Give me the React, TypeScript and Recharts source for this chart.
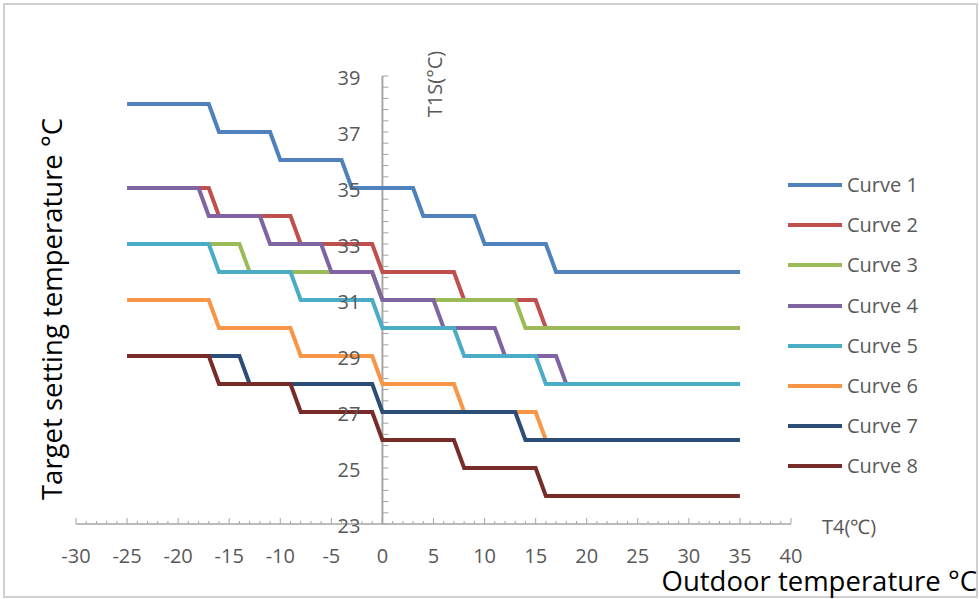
import React from 'react';
import {
  LineChart,
  Line,
  XAxis,
  YAxis,
  Legend,
  ReferenceLine,
  ReferenceDot,
} from 'recharts';

// [outdoor temp T4, target temp T1S]
const CURVE_1: [number, number][] = [
  [-25, 38], [-17, 38], [-16, 37], [-11, 37], [-10, 36], [-4, 36], [-3, 35],
  [3, 35], [4, 34], [9, 34], [10, 33], [16, 33], [17, 32], [35, 32],
];
const CURVE_2: [number, number][] = [
  [-25, 35], [-17, 35], [-16, 34], [-9, 34], [-8, 33], [-1, 33], [0, 32],
  [7, 32], [8, 31], [15, 31], [16, 30], [35, 30],
];
const CURVE_3: [number, number][] = [
  [-25, 33], [-14, 33], [-13, 32], [-1, 32], [0, 31], [13, 31], [14, 30], [35, 30],
];
const CURVE_4: [number, number][] = [
  [-25, 35], [-18, 35], [-17, 34], [-12, 34], [-11, 33], [-6, 33], [-5, 32],
  [-1, 32], [0, 31], [5, 31], [6, 30], [11, 30], [12, 29], [17, 29], [18, 28], [35, 28],
];
const CURVE_5: [number, number][] = [
  [-25, 33], [-17, 33], [-16, 32], [-9, 32], [-8, 31], [-1, 31], [0, 30],
  [7, 30], [8, 29], [15, 29], [16, 28], [35, 28],
];
const CURVE_6: [number, number][] = [
  [-25, 31], [-17, 31], [-16, 30], [-9, 30], [-8, 29], [-1, 29], [0, 28],
  [7, 28], [8, 27], [15, 27], [16, 26], [35, 26],
];
const CURVE_7: [number, number][] = [
  [-25, 29], [-14, 29], [-13, 28], [-1, 28], [0, 27], [13, 27], [14, 26], [35, 26],
];
const CURVE_8: [number, number][] = [
  [-25, 29], [-17, 29], [-16, 28], [-9, 28], [-8, 27], [-1, 27], [0, 26],
  [7, 26], [8, 25], [15, 25], [16, 24], [35, 24],
];

const CURVE_NAMES = ['Curve 1', 'Curve 2', 'Curve 3', 'Curve 4', 'Curve 5', 'Curve 6', 'Curve 7', 'Curve 8'];
const CURVE_COLORS = ['#4F81BD', '#C0504D', '#9BBB59', '#8064A2', '#4BACC6', '#F79646', '#2C4D75', '#772C2A'];
const CURVES = [CURVE_1, CURVE_2, CURVE_3, CURVE_4, CURVE_5, CURVE_6, CURVE_7, CURVE_8];

const X_TICKS = Array.from({ length: 71 }, (_, i) => i - 30);
const Y_LABELS = [23, 25, 27, 29, 31, 33, 35, 37, 39];
const Y_MINOR = Array.from({ length: 41 }, (_, i) => +(23 + i * 0.4).toFixed(1));

const AXIS_COLOR = '#A6A6A6';
const TEXT_COLOR = '#595959';
const FONT = '"Open Sans", "Liberation Sans", sans-serif';

const XTick = (props: any) => {
  const { x, y, payload } = props;
  const v = payload.value as number;
  const major = v % 5 === 0;
  return (
    <g>
      <line x1={x} x2={x} y1={y} y2={y - (major ? 6 : 3)} stroke={AXIS_COLOR} strokeWidth={1} />
      {major && (
        <text x={x} y={y + 39} textAnchor="middle" fontSize={20} fill={TEXT_COLOR} fontFamily={FONT}>
          {v}
        </text>
      )}
    </g>
  );
};

const LegendContent = () => (
  <div style={{ fontFamily: FONT }}>
    {CURVE_NAMES.map((name, i) => (
      <div key={name} style={{ display: 'flex', alignItems: 'center', height: 40.2 }}>
        <svg width={56} height={8} style={{ display: 'block' }}>
          <line x1={1} x2={55} y1={4} y2={4} stroke={CURVE_COLORS[i]} strokeWidth={4} />
        </svg>
        <span style={{ marginLeft: 4, fontSize: 20, color: TEXT_COLOR, lineHeight: '20px' }}>{name}</span>
      </div>
    ))}
  </div>
);

export default function App() {
  return (
    <div style={{ position: 'absolute', left: 0, top: 0, width: 979, height: 599, background: '#fff' }}>
      <LineChart width={979} height={599} margin={{ top: 76, right: 188, bottom: 0, left: 76 }}>
        <XAxis
          type="number"
          dataKey="x"
          domain={[-30, 40]}
          ticks={X_TICKS}
          interval={0}
          allowDuplicatedCategory={false}
          height={75}
          tickSize={0}
          tickMargin={0}
          tickLine={false}
          axisLine={{ stroke: AXIS_COLOR, strokeWidth: 1.5 }}
          tick={<XTick />}
        />
        <YAxis type="number" domain={[23, 39]} hide width={0} />
        <ReferenceLine
          segment={[{ x: 0, y: 23 }, { x: 0, y: 39 }]}
          stroke={AXIS_COLOR}
          strokeWidth={2}
          ifOverflow="visible"
        />
        {Y_MINOR.map((v) => (
          <ReferenceLine
            key={`ym-${v}`}
            segment={[{ x: 0, y: v }, { x: 0.6, y: v }]}
            stroke={AXIS_COLOR}
            strokeWidth={1}
            ifOverflow="visible"
          />
        ))}
        {Y_LABELS.map((v) => (
          <ReferenceDot
            key={`yl-${v}`}
            x={0}
            y={v}
            r={1}
            fill="none"
            stroke="none"
            ifOverflow="visible"
            label={{
              content: (p: any) => {
                const vb = p.viewBox;
                const cx = vb.x + vb.width / 2;
                const cy = vb.y + vb.height / 2;
                return (
                  <text x={cx - 22} y={cy + 9} textAnchor="end" fontSize={20} fill={TEXT_COLOR} fontFamily={FONT}>
                    {v}
                  </text>
                );
              },
            }}
          />
        ))}
        {CURVES.map((pts, i) => (
          <Line
            key={CURVE_NAMES[i]}
            data={pts.map(([x, y]) => ({ x, y }))}
            dataKey="y"
            name={CURVE_NAMES[i]}
            stroke={CURVE_COLORS[i]}
            strokeWidth={4}
            dot={false}
            activeDot={false}
            isAnimationActive={false}
            strokeLinejoin="miter"
          />
        ))}
        <Legend
          layout="vertical"
          align="center"
          verticalAlign="middle"
          content={<LegendContent />}
          wrapperStyle={{ left: 787, top: 165, width: 180 }}
        />
      </LineChart>
      <svg width={979} height={599} style={{ position: 'absolute', left: 0, top: 0, pointerEvents: 'none' }}>
        <rect x={4} y={4} width={973} height={593} fill="none" stroke="#D0D0D0" strokeWidth={2} />
        <text
          transform="translate(51 309) rotate(-90)"
          textAnchor="middle"
          dominantBaseline="central"
          fontSize={27.5}
          fill="#000"
          fontFamily={FONT}
        >
          Target setting temperature °C
        </text>
        <text x={977} y={591} textAnchor="end" fontSize={27.5} fill="#000" fontFamily={FONT}>
          Outdoor temperature °C
        </text>
        <text
          transform="translate(434 84) rotate(-90)"
          textAnchor="middle"
          dominantBaseline="central"
          fontSize={20}
          fill={TEXT_COLOR}
          fontFamily={FONT}
        >
          T1S(°C)
        </text>
        <text x={822} y={534} fontSize={20} fill={TEXT_COLOR} fontFamily={FONT}>
          T4(℃)
        </text>
      </svg>
    </div>
  );
}
